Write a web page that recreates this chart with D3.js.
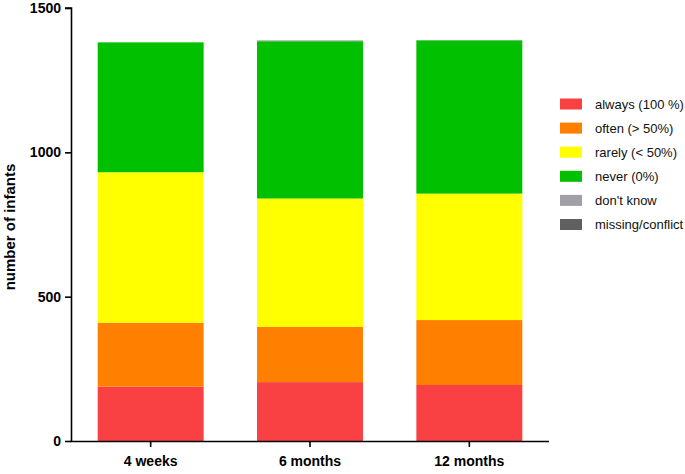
<!DOCTYPE html>
<html><head><meta charset="utf-8">
<script src="https://cdn.jsdelivr.net/npm/d3@7"></script>
<style>body{margin:0;background:#fff}svg{display:block}text{font-family:"Liberation Sans",Arial,sans-serif}</style>
</head><body><svg id="c" width="685" height="474"></svg>
<script>
const categories = ["4 weeks", "6 months", "12 months"];
const seriesNames = ["always (100 %)", "often (> 50%)", "rarely (< 50%)", "never (0%)", "don't know", "missing/conflict"];
const always = [188, 204, 194];
const often = [222, 191, 225];
const rarely = [521, 445, 438];
const never = [450, 545, 531];
const dontKnow = [0, 3, 1];
const missing = [0, 0, 0];
const colors = ["#f94144", "#ff8000", "#ffff00", "#00c000", "#a0a0a6", "#606060"];
const yTicks = [0, 500, 1000, 1500];

const seriesVals = [always, often, rarely, never, dontKnow, missing];
const rows = categories.map((c, i) => {
  const r = {cat: c};
  seriesNames.forEach((s, j) => r[s] = seriesVals[j][i]);
  return r;
});
const stack = d3.stack().keys(seriesNames)(rows);

const svg = d3.select("#c");
const x = d3.scaleBand().domain(categories).range([71, 549]).paddingInner(0.335).paddingOuter(0.1675);
const y = d3.scaleLinear().domain([0, 1500]).range([441, 8]);

svg.append("g").selectAll("g").data(stack).join("g")
  .attr("fill", (d, i) => colors[i])
  .selectAll("rect").data(d => d).join("rect")
  .attr("x", d => x(d.data.cat))
  .attr("width", x.bandwidth())
  .attr("y", d => y(d[1]))
  .attr("height", d => Math.max(0, y(d[0]) - y(d[1])));

const ya = svg.append("g").attr("transform", "translate(71,0)")
  .call(d3.axisLeft(y).tickValues(yTicks).tickSize(6).tickPadding(4).tickFormat(d3.format("d")));
const xa = svg.append("g").attr("transform", "translate(0,441)")
  .call(d3.axisBottom(x).tickSize(6).tickPadding(9).tickSizeOuter(0));
[ya, xa].forEach(a => {
  a.selectAll("path,line").attr("stroke", "#000").attr("stroke-width", 1.6);
  a.selectAll("text").attr("font-size", 14).attr("font-weight", "bold").attr("fill", "#000")
    .style("font-family", '"Liberation Sans",Arial,sans-serif');
});
xa.select(".domain").attr("d", "M70.2,0.5H549");
ya.select(".domain").attr("d", "M-6,8H0.5V441.8");

svg.append("text").attr("transform", "translate(15,227) rotate(-90)")
  .attr("text-anchor", "middle").attr("font-size", 15).attr("font-weight", "bold")
  .text("number of infants");

const lg = svg.append("g").selectAll("g").data(seriesNames).join("g")
  .attr("transform", (d, i) => `translate(560,${104 + i * 24.1})`);
lg.append("rect").attr("x", 0).attr("y", -5.5).attr("width", 22).attr("height", 11)
  .attr("fill", (d, i) => colors[i]);
lg.append("text").attr("x", 35).attr("y", 4.5).attr("font-size", 13).attr("fill", "#111").text(d => d);
</script></body></html>
